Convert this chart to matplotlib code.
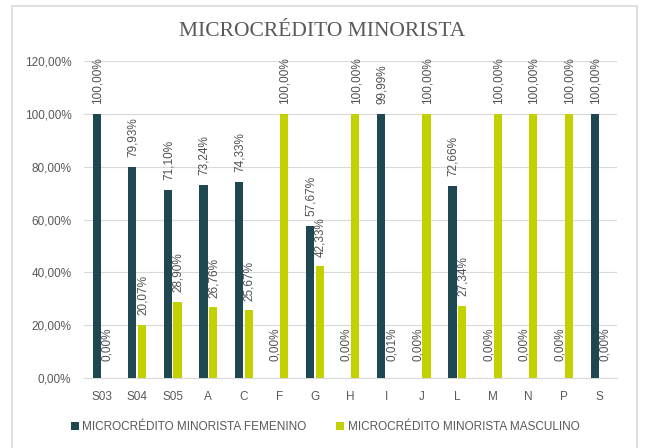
import numpy as np
from matplotlib import pyplot as plt
from matplotlib.patches import Rectangle

categories = ['S03', 'S04', 'S05', 'A', 'C', 'F', 'G', 'H', 'I', 'J', 'L', 'M', 'N', 'P', 'S']
femenino = [100.00, 79.93, 71.10, 73.24, 74.33, 0.00, 57.67, 0.00, 99.99, 0.00, 72.66, 0.00, 0.00, 0.00, 100.00]
masculino = [0.00, 20.07, 28.90, 26.76, 25.67, 100.00, 42.33, 100.00, 0.01, 100.00, 27.34, 100.00, 100.00, 100.00, 0.00]
yticks = [0, 20, 40, 60, 80, 100, 120]

dark = '#1f4751'
lime = '#c3d100'
grey_txt = '#595959'

def pct(v):
    return f"{v:.2f}".replace('.', ',') + '%'

fig = plt.figure(figsize=[6.45, 4.48], dpi=100)
ax = fig.add_axes([0.130, 0.156, 0.827, 0.708])

x = np.arange(len(categories))
w = 0.23
b1 = ax.bar(x - 0.135, femenino, w, color=dark, label='MICROCRÉDITO MINORISTA FEMENINO', zorder=3)
b2 = ax.bar(x + 0.135, masculino, w, color=lime, label='MICROCRÉDITO MINORISTA MASCULINO', zorder=3)

for bars, vals in [(b1, femenino), (b2, masculino)]:
    for r, v in zip(bars, vals):
        # excel pushes the near-zero labels a little higher
        off = 12 if v < 1 else 7
        ax.annotate(pct(v), (r.get_x() + r.get_width() / 2, v), xytext=(0.5, off), textcoords='offset points',
                    rotation=90, ha='center', va='bottom', fontsize=8.5, color='#505050',
                    family='Liberation Sans', zorder=4)

ax.set_xlim(-0.5, len(categories) - 0.5)
ax.set_ylim(0, 120)
ax.set_yticks(yticks)
ax.set_yticklabels([pct(v) for v in yticks], fontsize=8.5, color=grey_txt, family='Liberation Sans')
ax.set_xticks(x)
ax.set_xticklabels(categories, fontsize=8.5, color=grey_txt, family='Liberation Sans')
ax.tick_params(axis='both', length=0, pad=9)
ax.grid(axis='y', color='#d9d9d9', lw=0.8, zorder=0)
for s in ['top', 'right', 'left']:
    ax.spines[s].set_visible(False)
ax.spines['bottom'].set_color('#d9d9d9')

fig.text(0.5, 0.93, 'MICROCRÉDITO MINORISTA', ha='center', va='center', fontsize=15.5,
         color=grey_txt, family='Liberation Serif')

fig.legend(loc='center', bbox_to_anchor=(0.504, 0.047), ncol=2, frameon=False,
           prop={'family': 'Liberation Sans', 'size': 8.5}, handlelength=0.7, handleheight=0.7,
           handletextpad=0.3, columnspacing=2.5, labelcolor=grey_txt)

fig.patches.append(Rectangle((12 / 645, -0.01), (637 - 12) / 645, 1 - 6 / 448 + 0.01, transform=fig.transFigure,
                             fill=False, edgecolor='#d9d9d9', lw=1.2))

plt.savefig('out.png')
